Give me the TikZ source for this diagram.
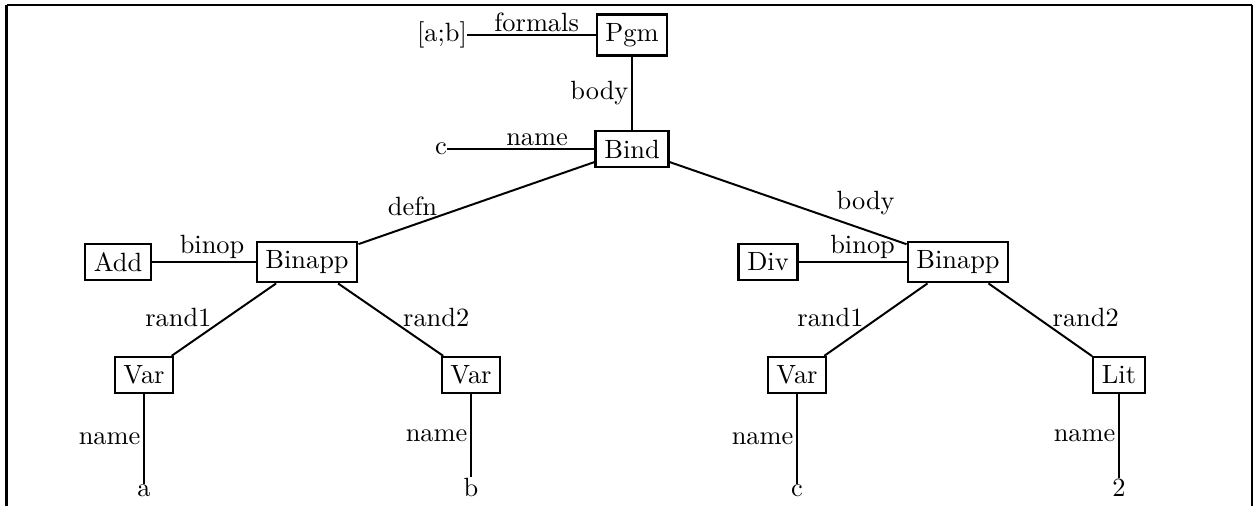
\documentclass[tikz,border=0pt]{standalone}
\begin{document}
\begin{tikzpicture}[x=0.3788pt,y=-0.3788pt,
  box/.style={draw,line width=0.8pt,inner sep=3.33pt},
  leaf/.style={inner sep=0pt},
  edge/.style={line width=0.75pt},
  lab/.style={inner sep=1pt},
  labse/.style={inner sep=0pt,anchor=south east},
  labsw/.style={inner sep=0pt,anchor=south west},
  frame/.style={line width=0.8pt}]
\useasboundingbox (0,0) rectangle (1254,506);
% frame
\draw[frame] (6.5,5) -- (1252,5);
\draw[frame,line width=1.1pt] (6.5,4.5) -- (6.5,506);
\draw[frame,line width=0.6pt] (1252,4.5) -- (1252,506);
% nodes
\node[box] (pgm) at (632,35) {Pgm};
\node[leaf] (ab) at (442,35) {[a;b]};
\node[box] (bind) at (632,149) {Bind};
\node[leaf] (c0) at (441,149) {c};
\node[box] (ba1) at (307,262) {Binapp};
\node[box] (add) at (118,262) {Add};
\node[box] (ba2) at (958,262) {Binapp};
\node[box] (div) at (768,262) {Div};
\node[box] (v1) at (144,375) {Var};
\node[box] (v2) at (471,375) {Var};
\node[box] (v3) at (797,375) {Var};
\node[box] (lit) at (1119,375) {Lit};
\node[leaf,anchor=base] (la) at (144,496) {a};
\node[leaf,anchor=base] (lb) at (471,496) {b};
\node[leaf,anchor=base] (lc) at (797,496) {c};
\node[leaf,anchor=base] (l2) at (1119,496) {2};
% edges
\draw[edge] (ab) -- node[lab,above,pos=0.54]{formals} (pgm);
\draw[edge] (pgm) -- node[lab,left,pos=0.5]{body} (bind);
\draw[edge] (c0) -- node[lab,above,pos=0.61]{name} (bind);
\draw[edge] (bind) -- node[labse,pos=0.663]{defn} (ba1);
\draw[edge] (bind) -- node[labsw,inner sep=1pt,pos=0.69]{body} (ba2);
\draw[edge] (add) -- node[lab,above,pos=0.58]{binop} (ba1);
\draw[edge] (div) -- node[lab,above,pos=0.593]{binop} (ba2);
\draw[edge] (ba1) -- node[labse,pos=0.61]{rand1} (v1);
\draw[edge] (ba1) -- node[labsw,pos=0.61]{rand2} (v2);
\draw[edge] (ba2) -- node[labse,pos=0.61]{rand1} (v3);
\draw[edge] (ba2) -- node[labsw,pos=0.61]{rand2} (lit);
\draw[edge] (v1) -- node[lab,left,midway]{name} (la);
\draw[edge] (v2) -- node[lab,left,midway]{name} (lb);
\draw[edge] (v3) -- node[lab,left,midway]{name} (lc);
\draw[edge] (lit) -- node[lab,left,midway]{name} (l2);
\end{tikzpicture}
\end{document}
